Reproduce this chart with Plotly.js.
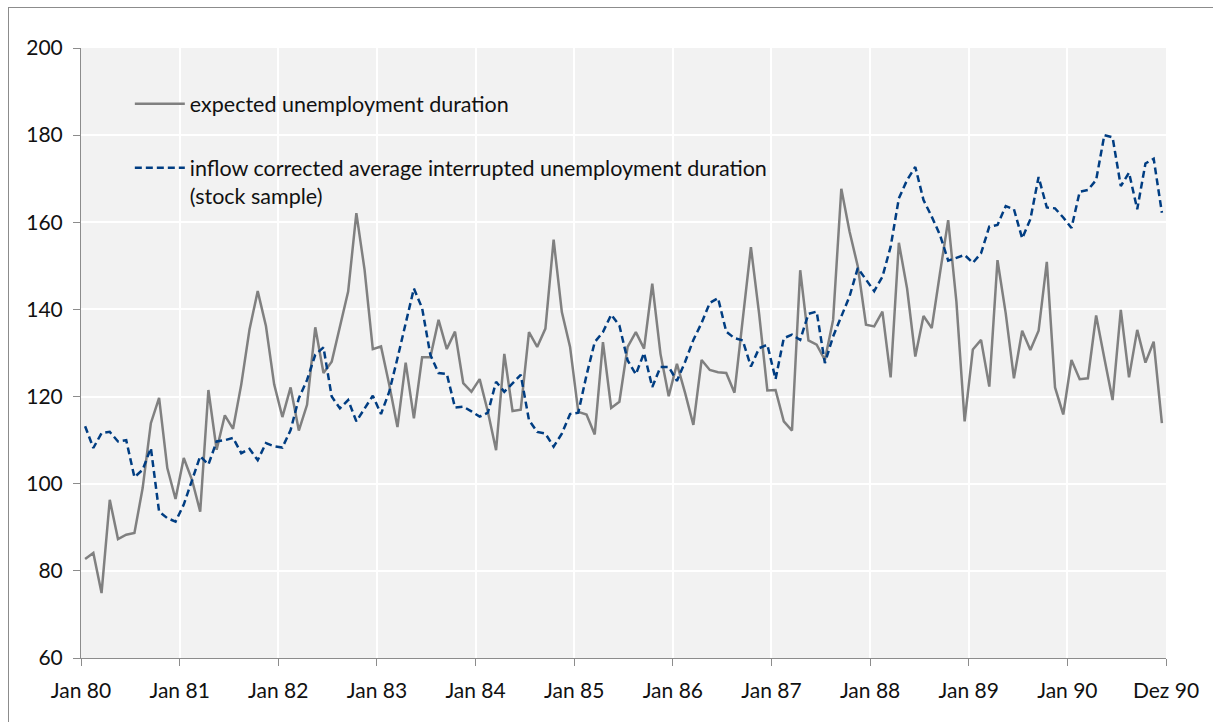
<!DOCTYPE html>
<html>
<head>
<meta charset="utf-8">
<script src="https://cdn.plot.ly/plotly-3.0.1.min.js"></script>
<style>
  html, body { margin: 0; padding: 0; width: 1213px; height: 722px; overflow: hidden; background: #ffffff; }
  #frame { position: absolute; left: 8px; top: 7px; width: 1300px; height: 800px; border: 1px solid #8c8c8c; box-sizing: border-box; }
  #chart { position: absolute; left: 0; top: 0; width: 1213px; height: 722px; }
</style>
</head>
<body>
<div id="frame"></div>
<div id="chart"></div>
<script>
// Monthly observations Jan 1980 .. Dec 1990 (132 months)
const expectedDuration = [
  82.7, 84.1, 74.9, 96.3, 87.3, 88.3, 88.7, 99.0, 113.9, 119.7, 103.6, 96.5,
  105.9, 100.9, 93.6, 121.5, 107.8, 115.7, 112.6, 122.8, 135.4, 144.2, 136.2, 122.8,
  115.3, 122.1, 112.2, 118.1, 135.9, 125.4, 128.0, 135.7, 144.1, 162.1, 149.1, 130.9,
  131.5, 122.7, 113.0, 127.8, 115.0, 129.0, 129.0, 137.6, 130.9, 134.9, 123.1, 121.1,
  124.0, 116.5, 107.7, 129.8, 116.7, 117.0, 134.8, 131.4, 135.6, 156.0, 139.4, 131.4,
  116.5, 115.9, 111.3, 132.5, 117.4, 118.8, 131.4, 134.8, 131.0, 145.9, 129.8, 120.1,
  127.5, 120.8, 113.5, 128.4, 126.1, 125.6, 125.4, 120.9, 138.0, 154.3, 139.0, 121.4,
  121.5, 114.3, 112.2, 149.0, 132.9, 131.9, 128.4, 137.6, 167.7, 157.9, 149.9, 136.5,
  136.1, 139.5, 124.4, 155.3, 144.8, 129.2, 138.5, 135.7, 148.3, 160.5, 141.8, 114.3,
  130.8, 133.0, 122.3, 151.3, 139.1, 124.2, 135.1, 130.7, 135.1, 150.9, 122.1, 115.9,
  128.4, 124.0, 124.2, 138.6, 128.8, 119.2, 139.9, 124.4, 135.3, 127.8, 132.6, 113.9
];
const inflowCorrected = [
  113.2, 108.2, 111.6, 111.9, 109.7, 110.0, 101.5, 103.2, 108.2, 93.6, 92.1, 91.3,
  95.2, 100.9, 106.3, 104.4, 109.7, 110.0, 110.5, 107.0, 108.0, 105.4, 109.3, 108.6,
  108.3, 112.3, 119.6, 123.8, 129.6, 131.3, 120.0, 117.3, 119.2, 114.3, 117.3, 120.2,
  116.0, 121.1, 128.8, 136.9, 144.8, 140.3, 129.6, 125.4, 125.2, 117.5, 117.7, 116.6,
  115.4, 116.3, 123.4, 121.1, 123.0, 125.0, 114.6, 111.9, 111.5, 108.5, 111.5, 116.0,
  116.3, 124.9, 132.5, 134.8, 138.8, 136.3, 128.3, 125.1, 130.0, 122.2, 126.8, 126.8,
  123.6, 128.0, 133.0, 136.9, 141.5, 142.6, 134.9, 133.4, 132.9, 126.9, 131.1, 131.9,
  124.0, 133.4, 134.2, 133.0, 139.0, 139.5, 127.7, 133.8, 138.4, 143.0, 149.5, 146.8,
  144.2, 147.5, 154.4, 165.5, 169.7, 172.7, 165.1, 161.3, 157.1, 151.2, 151.9, 152.5,
  150.7, 152.9, 159.0, 159.4, 163.7, 163.0, 156.3, 160.7, 170.4, 163.4, 163.2, 161.1,
  158.7, 167.0, 167.4, 169.7, 180.0, 179.5, 168.3, 171.4, 163.0, 173.5, 174.6, 162.2
];
const tickLabels = ["Jan 80", "Jan 81", "Jan 82", "Jan 83", "Jan 84", "Jan 85",
                    "Jan 86", "Jan 87", "Jan 88", "Jan 89", "Jan 90", "Dez 90"];
const seriesNames = ["expected unemployment duration",
                     "inflow corrected average interrupted unemployment duration<br>(stock sample)"];

const months = expectedDuration.map((_, i) => i);
const tickPositions = tickLabels.map((_, k) => k < tickLabels.length - 1 ? k * 12 - 0.5 : months.length - 0.5);

const font = "Lato, 'Liberation Sans', sans-serif";

const traces = [
  {
    x: months, y: expectedDuration, type: "scatter", mode: "lines",
    name: seriesNames[0], legendgroup: "a",
    line: { color: "#808080", width: 2.5 }
  },
  {
    x: months, y: inflowCorrected, type: "scatter", mode: "lines",
    name: seriesNames[1], legendgroup: "b",
    line: { color: "#003d82", width: 2.5, dash: "7px,4px" }
  }
];

const layout = {
  width: 1213, height: 722,
  margin: { l: 81, r: 47, t: 48, b: 64 },
  paper_bgcolor: "rgba(0,0,0,0)",
  plot_bgcolor: "#f2f2f2",
  font: { family: font, size: 20, color: "#111111" },
  showlegend: true,
  legend: {
    x: 0.045, y: 0.942, xanchor: "left", yanchor: "top",
    bgcolor: "rgba(0,0,0,0)", borderwidth: 0,
    traceorder: "grouped", tracegroupgap: 33, valign: "top",
    itemwidth: 50,
    font: { family: font, size: 21.5, color: "#111111" }
  },
  xaxis: {
    range: [-0.5, months.length - 0.5],
    tickmode: "array", tickvals: tickPositions, ticktext: tickLabels,
    ticks: "outside", ticklen: 7, tickcolor: "#8c8c8c", tickwidth: 1,
    showline: true, linecolor: "#8c8c8c", linewidth: 1,
    showgrid: true, gridcolor: "#ffffff", gridwidth: 2,
    zeroline: false, fixedrange: true,
    tickfont: { family: font, size: 21, color: "#111111" },
    ticklabelstandoff: 7
  },
  yaxis: {
    range: [60, 200], tickmode: "linear", tick0: 60, dtick: 20,
    ticks: "outside", ticklen: 7, tickcolor: "#8c8c8c", tickwidth: 1,
    showline: true, linecolor: "#8c8c8c", linewidth: 1,
    showgrid: true, gridcolor: "#ffffff", gridwidth: 2,
    zeroline: false, fixedrange: true,
    tickfont: { family: font, size: 21, color: "#111111" },
    ticklabelstandoff: 6
  }
};

Plotly.newPlot("chart", traces, layout, { displayModeBar: false, staticPlot: true });
</script>
</body>
</html>
